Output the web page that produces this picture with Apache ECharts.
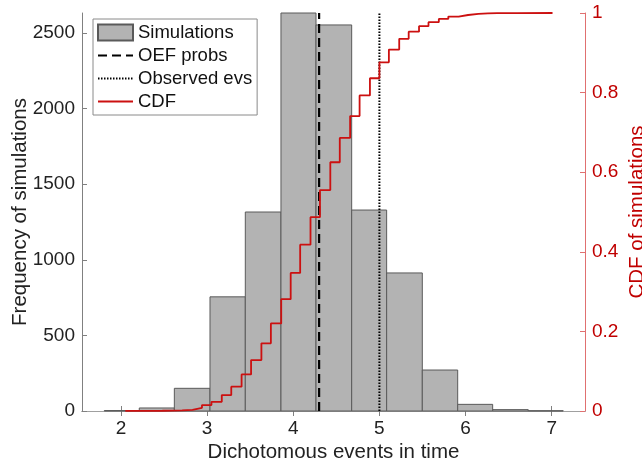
<!DOCTYPE html>
<html>
<head>
<meta charset="utf-8">
<script src="https://cdn.jsdelivr.net/npm/echarts@6/dist/echarts.min.js"></script>
<style>html,body{margin:0;padding:0;background:#fff}#c{width:642px;height:469px}</style>
</head>
<body>
<div id="c"></div>
<script>
// Histogram bins (edges) and counts
const binEdges = [1.806, 2.212, 2.619, 3.033, 3.443, 3.857, 4.264, 4.678, 5.084, 5.498, 5.909, 6.315, 6.728, 7.134];
const binCounts = [3, 20, 150, 755, 1316, 2632, 2553, 1329, 913, 271, 44, 9, 2];
// Empirical CDF: step positions and values after each step
const cdfX = [2.05, 2.14, 2.25, 2.37, 2.48, 2.60, 2.71, 2.83, 2.94, 3.05, 3.17, 3.28, 3.40, 3.51, 3.63, 3.74, 3.86, 3.97, 4.08, 4.20, 4.31, 4.43, 4.54, 4.66, 4.77, 4.89, 5.00, 5.11, 5.23, 5.34, 5.46, 5.57, 5.69, 5.80, 5.92, 6.03, 6.15, 6.26, 6.37, 6.49, 6.60, 7.01];
const cdfY = [0.0001, 0.0002, 0.0004, 0.0006, 0.001, 0.0015, 0.003, 0.008, 0.015, 0.023, 0.040, 0.061, 0.092, 0.128, 0.170, 0.220, 0.281, 0.347, 0.418, 0.487, 0.555, 0.625, 0.686, 0.741, 0.793, 0.836, 0.876, 0.908, 0.935, 0.953, 0.967, 0.977, 0.985, 0.991, 0.995, 0.998, 0.999, 0.9995, 0.9998, 0.9999, 1.0, 1.0];
// Reference lines
const oefProbs = 4.3;
const observedEvs = 5.0;
// Axis ticks
const xTicks = [2, 3, 4, 5, 6, 7];
const yLeftTicks = [0, 500, 1000, 1500, 2000, 2500];
const yLeftMax = 2632;
const xMin = 1.547, xMax = 7.387;

const FONT = 'Liberation Sans, Arial, Helvetica, sans-serif';
const histData = binCounts.map((c, i) => [binEdges[i], binEdges[i + 1], c]);
const cdfData = cdfX.map((x, i) => [x, cdfY[i]]);
const hideSym = {opacity: 0};

const chart = echarts.init(document.getElementById('c'), null, {renderer: 'canvas'});
chart.setOption({
  animation: false,
  backgroundColor: '#fff',
  textStyle: {fontFamily: FONT},
  grid: {left: 82, right: 57, top: 13, bottom: 58, outerBoundsMode: 'none', containLabel: false},
  legend: {
    orient: 'vertical', left: 93, top: 19,
    backgroundColor: '#fff', borderColor: '#8a8a8a', borderWidth: 1, borderRadius: 0,
    padding: [4, 5, 4, 4], itemGap: 4, itemWidth: 35, itemHeight: 16,
    textStyle: {fontFamily: FONT, fontSize: 18.5, color: '#111'},
    data: [
      {name: 'Simulations', icon: 'rect'},
      {name: 'OEF probs', itemStyle: hideSym},
      {name: 'Observed evs', itemStyle: hideSym},
      {name: 'CDF', itemStyle: hideSym}
    ]
  },
  xAxis: [{
    type: 'value', min: xMin, max: xMax, position: 'bottom',
    name: 'Dichotomous events in time', nameLocation: 'middle', nameGap: 31, nameMoveOverlap: false,
    nameTextStyle: {fontFamily: FONT, fontSize: 20.5, color: '#222'},
    axisLine: {show: true, lineStyle: {color: '#808080', width: 1}},
    axisTick: {show: true, inside: true, length: 5, customValues: xTicks, lineStyle: {color: '#808080'}},
    axisLabel: {customValues: xTicks, margin: 8, fontSize: 19, color: '#222', fontFamily: FONT},
    splitLine: {show: false}
  }, {
    type: 'value', min: xMin, max: xMax, position: 'top',
    axisLine: {show: true, lineStyle: {color: '#a0a0a0', width: 1}},
    axisTick: {show: true, inside: true, length: 5, customValues: xTicks, lineStyle: {color: '#808080'}},
    axisLabel: {show: false},
    splitLine: {show: false}
  }],
  yAxis: [{
    type: 'value', min: 0, max: yLeftMax, position: 'left',
    name: 'Frequency of simulations', nameLocation: 'middle', nameGap: 51, nameRotate: 90, nameMoveOverlap: false,
    nameTextStyle: {fontFamily: FONT, fontSize: 20.5, color: '#222'},
    axisLine: {show: true, lineStyle: {color: '#808080', width: 1}},
    axisTick: {show: true, inside: true, length: 5, customValues: yLeftTicks, lineStyle: {color: '#808080'}},
    axisLabel: {customValues: yLeftTicks, margin: 7, fontSize: 19, color: '#222', fontFamily: FONT,
      formatter: v => String(v)},
    splitLine: {show: false}
  }, {
    type: 'value', min: 0, max: 1, interval: 0.2, position: 'right',
    name: 'CDF of simulations', nameLocation: 'middle', nameGap: 42, nameRotate: 90, nameMoveOverlap: false,
    nameTextStyle: {fontFamily: FONT, fontSize: 20.5, color: '#c00000'},
    axisLine: {show: true, lineStyle: {color: '#e07070', width: 1}},
    axisTick: {show: true, inside: true, length: 5, lineStyle: {color: '#e07070'}},
    axisLabel: {margin: 7, fontSize: 19, color: '#c00000', fontFamily: FONT,
      formatter: v => (Math.round(v * 10) / 10).toString()},
    splitLine: {show: false}
  }],
  series: [{
    name: 'Simulations', type: 'custom', xAxisIndex: 0, yAxisIndex: 0,
    itemStyle: {color: '#b3b3b3', borderColor: '#5a5a5a', borderWidth: 1},
    encode: {x: [0, 1], y: 2},
    data: histData,
    renderItem: function (params, api) {
      const p0 = api.coord([api.value(0), api.value(2)]);
      const p1 = api.coord([api.value(1), 0]);
      return {
        type: 'rect',
        shape: {x: p0[0], y: p0[1], width: p1[0] - p0[0], height: p1[1] - p0[1]},
        style: {fill: '#b3b3b3', stroke: '#5a5a5a', lineWidth: 1}
      };
    },
    z: 1
  }, {
    name: 'OEF probs', type: 'line', xAxisIndex: 0, yAxisIndex: 0,
    data: [[oefProbs, 0], [oefProbs, yLeftMax]],
    symbol: 'none', color: '#000',
    lineStyle: {color: '#000', width: 2.2, type: [9, 5]},
    z: 3
  }, {
    name: 'Observed evs', type: 'line', xAxisIndex: 0, yAxisIndex: 0,
    data: [[observedEvs, 0], [observedEvs, yLeftMax]],
    symbol: 'none', color: '#000',
    lineStyle: {color: '#000', width: 2, type: [1.5, 1.5]},
    z: 3
  }, {
    name: 'CDF', type: 'line', xAxisIndex: 0, yAxisIndex: 1,
    data: cdfData, step: 'end',
    symbol: 'none', color: '#cc1010',
    lineStyle: {color: '#cc1010', width: 1.8},
    z: 4
  }]
});
</script>
</body>
</html>
